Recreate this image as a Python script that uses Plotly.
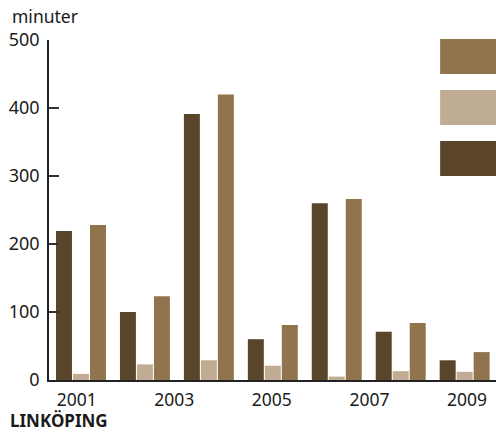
import plotly.graph_objects as go

# Data (minutes), one entry per bar group
dark_vals = [219, 100, 391, 60, 260, 71, 29]
light_vals = [9, 23, 29, 21, 5, 13, 12]
medium_vals = [228, 123, 420, 81, 266, 84, 41]
tick_years = [2001, 2003, 2005, 2007, 2009]
y_ticks = [0, 100, 200, 300, 400, 500]

DARK = "#5B452A"
LIGHT = "#C0AC92"
MEDIUM = "#8F744D"
FONT = "Noto Sans"
TXT = "#1a1a1a"

groups = list(range(len(dark_vals)))

fig = go.Figure()
for vals, col in [(dark_vals, DARK), (light_vals, LIGHT), (medium_vals, MEDIUM)]:
    fig.add_trace(go.Bar(x=groups, y=vals, marker=dict(color=col, line=dict(width=0)),
                         showlegend=False, hoverinfo="skip"))

# year label positions along the group axis
tick_pos = [-0.067 + (yr - tick_years[0]) * 0.763 for yr in tick_years]

fig.update_layout(
    width=496, height=433,
    margin=dict(l=49, r=0, t=40, b=53),
    paper_bgcolor="white", plot_bgcolor="white",
    barmode="group", bargap=0.203, bargroupgap=0.06,
    font=dict(family=FONT, size=18, color=TXT),
    xaxis=dict(range=[-0.5, 6.49], showgrid=False, zeroline=False,
               showline=True, linecolor="#222", linewidth=1.5,
               tickmode="array", tickvals=tick_pos, ticktext=[str(y) for y in tick_years],
               ticks="", ticklabelstandoff=3, tickfont=dict(family=FONT, size=17.5, color=TXT)),
    yaxis=dict(range=[0, 500], showgrid=False, zeroline=False,
               showline=True, linecolor="#222", linewidth=1.5,
               tickmode="array", tickvals=y_ticks, ticks="inside", ticklen=10,
               tickcolor="#333", tickwidth=1.5, ticklabelstandoff=4,
               tickfont=dict(family=FONT, size=18, color=TXT)),
    annotations=[
        dict(text="minuter", xref="paper", yref="paper", x=-0.087, y=1.072,
             xanchor="left", yanchor="middle", showarrow=False,
             font=dict(family=FONT, size=17.5, color=TXT)),
        dict(text="<b>LINKÖPING</b>", xref="paper", yref="paper", x=-0.09, y=-0.1573,
             xanchor="left", yanchor="bottom", showarrow=False, borderpad=0,
             font=dict(family=FONT, size=17, color=TXT)),
    ],
    shapes=[
        dict(type="rect", xref="paper", yref="paper", x0=0.875, x1=1.0, y0=0.9, y1=1.003,
             fillcolor=MEDIUM, line=dict(width=0)),
        dict(type="rect", xref="paper", yref="paper", x0=0.875, x1=1.0, y0=0.75, y1=0.853,
             fillcolor=LIGHT, line=dict(width=0)),
        dict(type="rect", xref="paper", yref="paper", x0=0.875, x1=1.0, y0=0.6, y1=0.703,
             fillcolor=DARK, line=dict(width=0)),
    ],
)

fig.write_html("out.html", config={"displayModeBar": False},
               post_script="document.body.style.margin='0';document.body.style.overflow='hidden';")
